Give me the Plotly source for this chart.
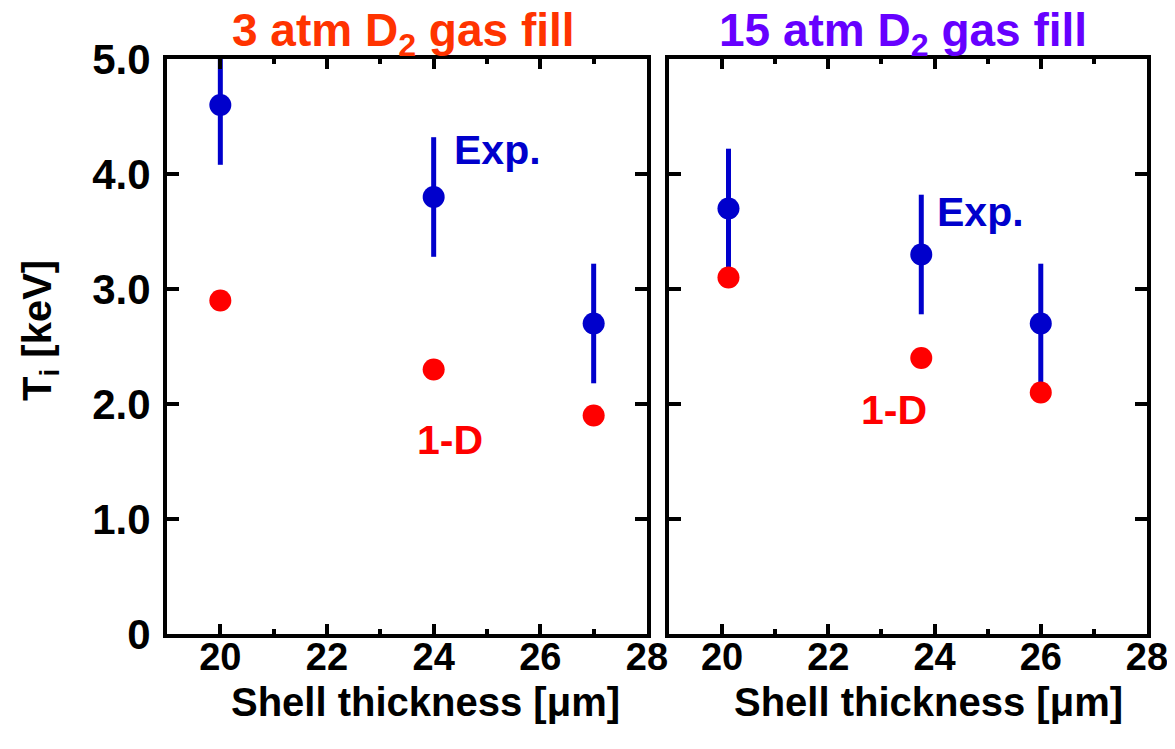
import plotly.graph_objects as go

# ---- data ----
thick_3atm = [20, 24, 27]
exp_3atm = [4.6, 3.8, 2.7]
err_3atm = [0.52, 0.52, 0.52]
sim_3atm = [2.9, 2.3, 1.9]

thick_15atm = [20.12, 23.75, 26]
exp_15atm = [3.7, 3.3, 2.7]
err_15atm = [0.52, 0.52, 0.52]
sim_15atm = [3.1, 2.4, 2.1]

x_ticks = [20, 22, 24, 26, 28]
y_ticks = [0, 1, 2, 3, 4, 5]
y_ticklabels = ["0", "1.0", "2.0", "3.0", "4.0", "5.0"]

BLUE = "#0000CC"
RED = "#FF0000"
FONT = "Liberation Sans, Arial, sans-serif"

fig = go.Figure()

def add_panel(xs, ex, er, sim, xa, ya):
    fig.add_trace(go.Scatter(
        x=xs, y=ex, mode="markers", xaxis=xa, yaxis=ya,
        marker=dict(color=BLUE, size=22),
        error_y=dict(type="data", array=er, color=BLUE, thickness=5, width=0),
        showlegend=False))
    fig.add_trace(go.Scatter(
        x=xs, y=sim, mode="markers", xaxis=xa, yaxis=ya,
        marker=dict(color=RED, size=22), showlegend=False))

add_panel(thick_3atm, exp_3atm, err_3atm, sim_3atm, "x", "y")
add_panel(thick_15atm, exp_15atm, err_15atm, sim_15atm, "x2", "y2")

OFF = 8  # page body margin
W, H = 1175 - 2 * OFF, 749 - 2 * OFF   # fit inside the window without scrollbars
px = lambda v: (v - OFF) / W
py = lambda v: 1 - (v - OFF) / H

xd1 = [px(167), px(647)]
xd2 = [px(669), px(1147)]
yd = [py(634), py(59)]

xcommon = dict(range=[19, 28], tickvals=x_ticks, ticks="inside", ticklen=10, tickwidth=4,
               tickcolor="black", showline=True, linewidth=4, linecolor="black",
               mirror="allticks", showgrid=False, zeroline=False, automargin=False,
               ticklabelstandoff=-14, ticklabeloverflow="allow",
               minor=dict(dtick=1, tick0=19, ticks="inside", ticklen=5, tickwidth=4, tickcolor="black", showgrid=False),
               tickfont=dict(family=FONT, size=38, color="black", weight="bold"))
ycommon = dict(range=[0, 5], tickvals=y_ticks, ticktext=y_ticklabels, ticks="inside", ticklen=12,
               tickwidth=4, tickcolor="black", showline=True, linewidth=4, linecolor="black",
               mirror="allticks", showgrid=False, zeroline=False, automargin=False,
               tickfont=dict(family=FONT, size=42, color="black", weight="bold"))

fig.update_layout(
    width=W, height=H, margin=dict(l=0, r=0, t=0, b=0, autoexpand=False),
    paper_bgcolor="white", plot_bgcolor="white",
    xaxis=dict(domain=xd1, anchor="y", **xcommon),
    yaxis=dict(domain=yd, anchor="x", ticklabelstandoff=4, **ycommon),
    xaxis2=dict(domain=xd2, anchor="y2", **xcommon),
    yaxis2=dict(domain=yd, anchor="x2", showticklabels=False, **ycommon),
)

ann_font = lambda c, s: dict(family=FONT, size=s, color=c, weight="bold")
annotations = [
    dict(text="3 atm D<sub>2</sub> gas fill", x=px(403), y=py(34), xref="paper", yref="paper",
         showarrow=False, font=ann_font("#FF3300", 46), xanchor="center", yanchor="middle"),
    dict(text="15 atm D<sub>2</sub> gas fill", x=px(903), y=py(34), xref="paper", yref="paper",
         showarrow=False, font=ann_font("#6600FF", 46), xanchor="center", yanchor="middle"),
    dict(text="Shell thickness [μm]", x=px(425), y=py(702), xref="paper", yref="paper",
         showarrow=False, font=ann_font("black", 40), xanchor="center", yanchor="middle"),
    dict(text="Shell thickness [μm]", x=px(928), y=py(702), xref="paper", yref="paper",
         showarrow=False, font=ann_font("black", 40), xanchor="center", yanchor="middle"),
    dict(text="T<sub>i</sub> [keV]", x=px(40), y=py(331), xref="paper", yref="paper",
         showarrow=False, textangle=-90, font=ann_font("black", 40), xanchor="center", yanchor="middle"),
    dict(text="Exp.", x=25.19, y=4.21, xref="x", yref="y", showarrow=False,
         font=ann_font(BLUE, 41)),
    dict(text="1-D", x=24.31, y=1.69, xref="x", yref="y", showarrow=False,
         font=ann_font(RED, 41)),
    dict(text="Exp.", x=24.87, y=3.67, xref="x2", yref="y2", showarrow=False,
         font=ann_font(BLUE, 41)),
    dict(text="1-D", x=23.23, y=1.95, xref="x2", yref="y2", showarrow=False,
         font=ann_font(RED, 41)),
]
fig.update_layout(annotations=annotations)

fig.write_html("out.html")
